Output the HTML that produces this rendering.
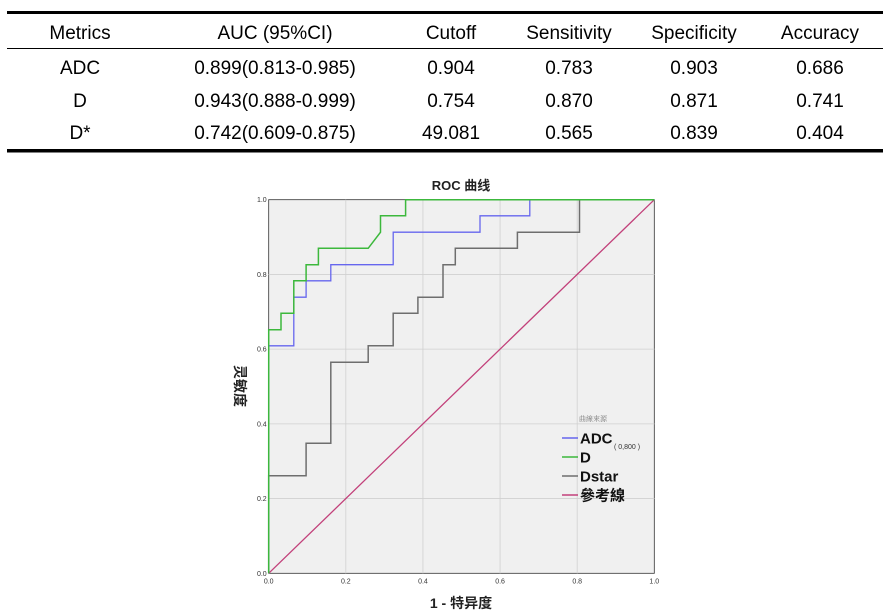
<!DOCTYPE html>
<html><head><meta charset="utf-8">
<style>
html,body{margin:0;padding:0;background:#fff;width:892px;height:616px;overflow:hidden}
svg{display:block}
.t{font-family:"Liberation Sans",Arial,sans-serif;font-size:19px;fill:#000;text-anchor:middle}
.tick{font-family:"Liberation Sans",sans-serif;font-size:7px;fill:#333}
.cj{font-family:"Liberation Sans","Noto Sans CJK SC",sans-serif;font-weight:bold}
</style></head>
<body>
<svg id="root" width="892" height="616">
<g id="table">
<rect x="7" y="11" width="876" height="3" fill="#000"/>
<rect x="7" y="48" width="876" height="1" fill="#000"/>
<rect x="7" y="149" width="876" height="3.5" fill="#000"/>
</g>
<g id="chart">
<rect x="268.7" y="199.7" width="385.6" height="373.6" fill="#f0f0f0" stroke="#333" stroke-width="0.8"/>
<g id="grid"></g>
<g id="ticks"></g>
<g id="series"></g>
<text x="461" y="190" text-anchor="middle" class="cj" font-size="13" fill="#222">ROC 曲线</text>
<text x="461" y="608" text-anchor="middle" class="cj" font-size="14" fill="#222">1 - 特异度</text>
<text transform="translate(235,386) rotate(90)" text-anchor="middle" class="cj" font-size="14" fill="#222">灵敏度</text>
<g id="legend">
<text x="593" y="421" text-anchor="middle" font-family="'Noto Serif CJK SC',serif" font-size="7" fill="#777">曲線來源</text>
</g>
</g>
</svg>
<script>
const headers=["Metrics","AUC (95%CI)","Cutoff","Sensitivity","Specificity","Accuracy"];
const rowsData=[["ADC","0.899(0.813-0.985)","0.904","0.783","0.903","0.686"],["D","0.943(0.888-0.999)","0.754","0.870","0.871","0.741"],["D*","0.742(0.609-0.875)","49.081","0.565","0.839","0.404"]];
const seriesNames=["ADC","D","Dstar"];
const adcX=[0,0,0.065,0.065,0.097,0.097,0.161,0.161,0.323,0.323,0.548,0.548,0.677,0.677,1];
const adcY=[0,0.609,0.609,0.739,0.739,0.783,0.783,0.826,0.826,0.913,0.913,0.957,0.957,1,1];
const dX=[0,0,0.032,0.032,0.065,0.065,0.097,0.097,0.129,0.129,0.258,0.29,0.29,0.355,0.355,1];
const dY=[0,0.652,0.652,0.696,0.696,0.783,0.783,0.826,0.826,0.870,0.870,0.913,0.957,0.957,1,1];
const dsX=[0,0,0.097,0.097,0.161,0.161,0.258,0.258,0.323,0.323,0.387,0.387,0.452,0.452,0.484,0.484,0.645,0.645,0.806,0.806,1];
const dsY=[0,0.261,0.261,0.348,0.348,0.565,0.565,0.609,0.609,0.696,0.696,0.739,0.739,0.826,0.826,0.870,0.870,0.913,0.913,1,1];
const refX=[0,1];
const refY=[0,1];
const tickVals=[0,0.2,0.4,0.6,0.8,1.0];
const tickLabels=["0.0","0.2","0.4","0.6","0.8","1.0"];
const NS="http://www.w3.org/2000/svg";
const X0=268.7,X1=654.3,Y0=573.3,Y1=199.7;
const sx=v=>X0+v*(X1-X0), sy=v=>Y0-v*(Y0-Y1);
function mk(tag,attrs,parent,txt){const e=document.createElementNS(NS,tag);for(const k in attrs)e.setAttribute(k,attrs[k]);if(txt!==undefined)e.textContent=txt;parent.appendChild(e);return e;}
const table=document.getElementById('table');
const colX=[80,275,451,569,694,820];
headers.forEach((h,i)=>{const e=mk('text',{x:colX[i],y:39,class:'t'},table,h);

});
const rowY=[74,107,139];
rowsData.forEach((r,ri)=>r.forEach((c,ci)=>{const e=mk('text',{x:colX[ci],y:rowY[ri],class:'t'},table,c);

}));
const grid=document.getElementById('grid'),ticks=document.getElementById('ticks');
tickVals.forEach((v,i)=>{
 if(v>0&&v<1){
  const g1=mk('line',{x1:sx(v),x2:sx(v),y1:Y0,y2:Y1,stroke:'#d0d0d0','stroke-width':0.8},grid);
  
  
  const g2=mk('line',{x1:X0,x2:X1,y1:sy(v),y2:sy(v),stroke:'#d0d0d0','stroke-width':0.8},grid);
  
  
 }
 const tx=mk('text',{x:sx(v),y:Y0+10,class:'tick','text-anchor':'middle'},ticks,tickLabels[i]);
 
 
 const ty=mk('text',{x:X0-2,y:sy(v)+2.5,class:'tick','text-anchor':'end'},ticks,tickLabels[i]);
 
 
});
const ser=document.getElementById('series');
function line(xs,ys,col,name,w){const p=xs.map((x,i)=>sx(x).toFixed(1)+','+sy(ys[i]).toFixed(1)).join(' ');
 const e=mk('polyline',{points:p,fill:'none',stroke:col,'stroke-width':w},ser);
 
 }
line(refX,refY,'#c2407a','reference-line',1.3);
line(dsX,dsY,'#6e6e6e','dstar-curve',1.5);
line(adcX,adcY,'#6666ee','adc-curve',1.3);
line(dX,dY,'#3cb83c','d-curve',1.5);
const leg=document.getElementById('legend');
const legCols=['#6666ee','#3cb83c','#6e6e6e','#c2407a'];
const legLabels=['ADC','D','Dstar','參考線'];
const legNames=['legend-adc','legend-d','legend-dstar','legend-reference'];
legLabels.forEach((l,i)=>{const y=438+i*19;
 const ln=mk('line',{x1:562,x2:578,y1:y,y2:y,stroke:legCols[i],'stroke-width':1.5},leg);
 
 
 const t=mk('text',{x:580,y:y+5.5,class:'cj','font-size':15,fill:'#111'},leg,l);
 
 
});
const sub=mk('text',{x:614,y:449,'font-family':'Liberation Sans,sans-serif','font-size':7,fill:'#333'},leg,'( 0,800 )');


</script>
</body></html>
